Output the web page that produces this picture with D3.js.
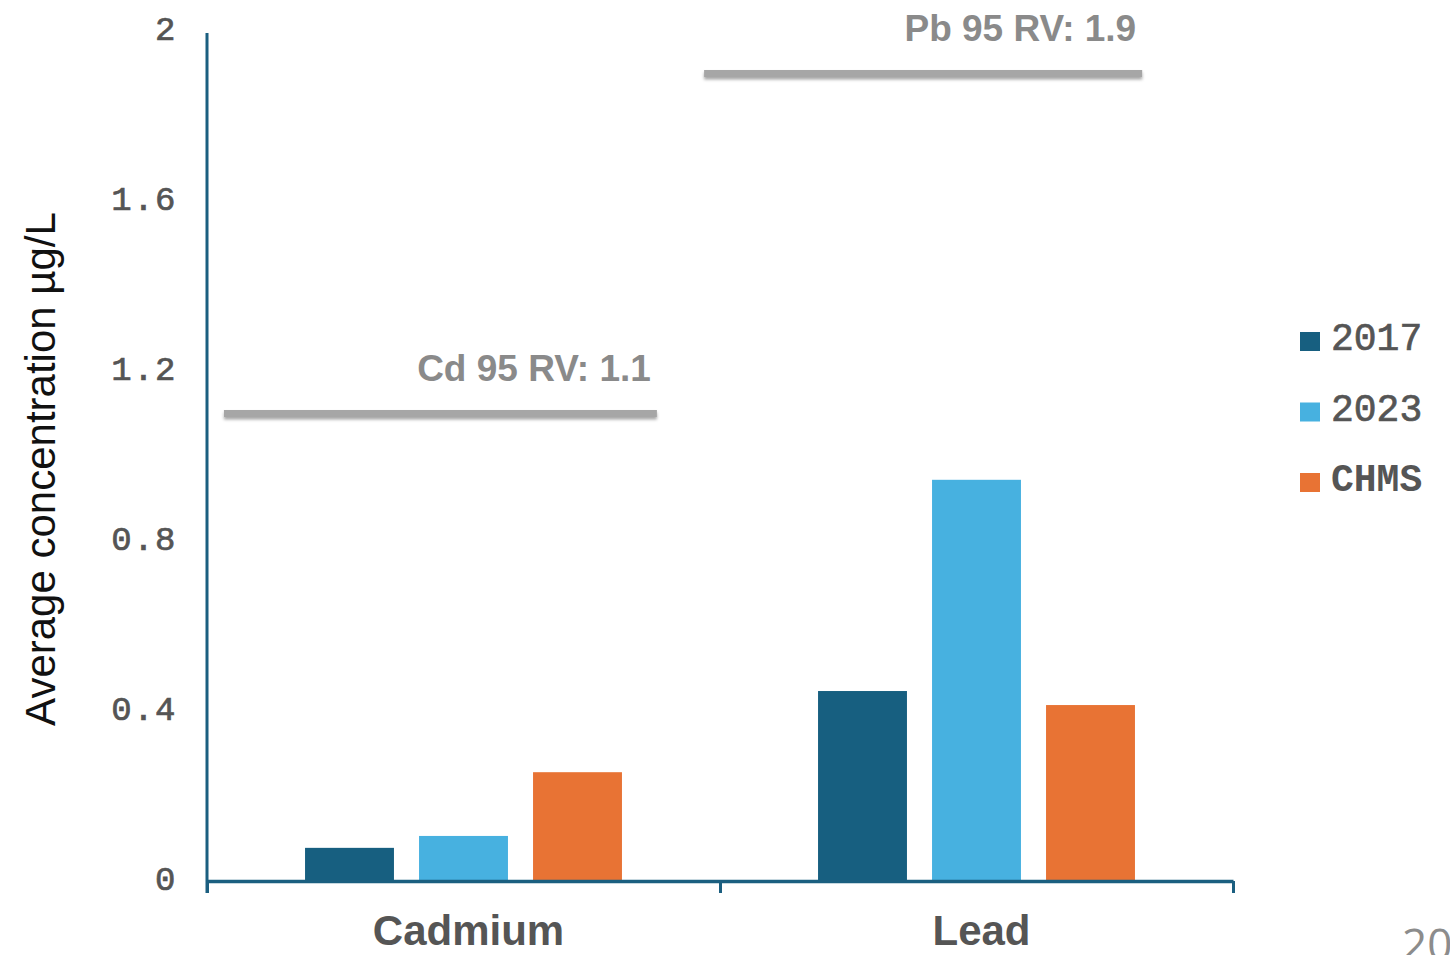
<!DOCTYPE html>
<html>
<head>
<meta charset="utf-8">
<script src="https://cdn.jsdelivr.net/npm/d3@7"></script>
<style>
  html, body { margin: 0; padding: 0; background: #fff; }
  svg { display: block; }
</style>
</head>
<body>
<svg id="chart" width="1450" height="955"></svg>
<script>
// Metals in blood: average concentration per survey
const categories = ["Cadmium", "Lead"];
const series = ["2017", "2023", "CHMS"];
const cadmiumValues = [0.078, 0.106, 0.256];
const leadValues = [0.447, 0.944, 0.414];
const yTicks = [0, 0.4, 0.8, 1.2, 1.6, 2];
const yTickLabels = ["0", "0.4", "0.8", "1.2", "1.6", "2"];
const refLabels = ["Cd 95 RV: 1.1", "Pb 95 RV: 1.9"];
const refValues = [1.1, 1.9];

const valuesByCategory = { Cadmium: cadmiumValues, Lead: leadValues };
const colors = { "2017": "#175f80", "2023": "#47b1e0", "CHMS": "#e87334" };

// layout
const plot = { left: 207, right: 1233, top: 31, bottom: 881 };
const axisColor = "#1b5f80";
// reference line extents, in "category units" along the x axis (0 = left edge, 2 = right edge)
const refSpans = [[0.033, 0.877], [0.969, 1.823]];

const svg = d3.select("#chart");

const y = d3.scaleLinear().domain([0, 2]).range([plot.bottom, plot.top]);
const x0 = d3.scaleBand().domain(categories).range([plot.left, plot.right]).padding(0);
const x1 = d3.scaleBand().domain(series).range([0, x0.bandwidth()])
  .paddingInner(0.22).paddingOuter(0.86);
const xUnits = d3.scaleLinear().domain([0, categories.length]).range([plot.left, plot.right]);

// soft drop shadow for the reference lines (user-space region so thin lines keep it)
const defs = svg.append("defs");
const f = defs.append("filter").attr("id", "shadow")
  .attr("filterUnits", "userSpaceOnUse")
  .attr("x", 0).attr("y", 0).attr("width", 1450).attr("height", 955);
f.append("feDropShadow").attr("dx", 0).attr("dy", 2.5).attr("stdDeviation", 1.8)
  .attr("flood-color", "#000").attr("flood-opacity", 0.35);

// bars
const groups = svg.append("g").selectAll("g")
  .data(categories).join("g")
  .attr("transform", d => `translate(${x0(d)},0)`);

groups.selectAll("rect")
  .data(c => series.map((s, i) => ({ s, v: valuesByCategory[c][i] })))
  .join("rect")
  .attr("x", d => x1(d.s))
  .attr("width", x1.bandwidth())
  .attr("y", d => y(d.v))
  .attr("height", d => y(0) - y(d.v))
  .attr("fill", d => colors[d.s]);

// y axis
const yAxis = d3.axisLeft(y).tickValues(yTicks).tickSize(0).tickPadding(30)
  .tickFormat((d, i) => yTickLabels[i]);
const gy = svg.append("g").attr("transform", `translate(${plot.left},0)`).call(yAxis);
gy.select(".domain").remove();
gy.selectAll("text")
  .attr("font-family", "'Liberation Mono', 'DejaVu Sans Mono', monospace")
  .attr("font-size", 34).attr("fill", "#555").attr("letter-spacing", 1.5)
  .attr("stroke", "#555").attr("stroke-width", 0.7)
  .attr("dy", "0.26em");
svg.append("line")
  .attr("x1", plot.left).attr("x2", plot.left)
  .attr("y1", y(2) + 2).attr("y2", y(0) + 12)
  .attr("stroke", axisColor).attr("stroke-width", 3);

// x axis
const xAxis = d3.axisBottom(xUnits).tickValues(d3.range(categories.length + 1))
  .tickSize(12).tickSizeOuter(0).tickFormat("");
const gx = svg.append("g").attr("transform", `translate(0,${y(0)})`).call(xAxis);
gx.select(".domain").attr("stroke", axisColor).attr("stroke-width", 3.5);
gx.selectAll(".tick line").attr("stroke", axisColor).attr("stroke-width", 3);

// category labels
svg.append("g").selectAll("text")
  .data(categories).join("text")
  .attr("x", d => x0(d) + x0.bandwidth() / 2 + 5)
  .attr("y", 945)
  .attr("text-anchor", "middle")
  .attr("font-family", "'Liberation Sans', Arial, sans-serif")
  .attr("font-weight", "bold").attr("font-size", 42)
  .attr("fill", "#555")
  .text(d => d);

// reference lines with labels
const refs = svg.append("g").selectAll("g")
  .data(refValues.map((v, i) => ({ v, label: refLabels[i], span: refSpans[i] })))
  .join("g");
refs.append("line")
  .attr("x1", d => xUnits(d.span[0])).attr("x2", d => xUnits(d.span[1]))
  .attr("y1", d => y(d.v)).attr("y2", d => y(d.v))
  .attr("stroke", "#a6a6a6").attr("stroke-width", 7)
  .attr("filter", "url(#shadow)");
refs.append("text")
  .attr("x", d => xUnits(d.span[1]) - 6)
  .attr("y", d => y(d.v) - 33)
  .attr("text-anchor", "end")
  .attr("font-family", "'Liberation Sans', Arial, sans-serif")
  .attr("font-weight", "bold").attr("font-size", 37)
  .attr("fill", "#8a8a8a")
  .text(d => d.label);

// y axis title
svg.append("text")
  .attr("transform", "translate(55,469) rotate(-90)")
  .attr("text-anchor", "middle")
  .attr("font-family", "'Liberation Sans', Arial, sans-serif")
  .attr("font-size", 42).attr("fill", "#111")
  .text("Average concentration µg/L");

// legend
const legend = svg.append("g").attr("transform", "translate(1300,330)");
const rows = legend.selectAll("g").data(series).join("g")
  .attr("transform", (d, i) => `translate(0,${i * 70.5})`);
rows.append("rect").attr("width", 20).attr("height", 19).attr("y", 2)
  .attr("fill", d => colors[d]);
rows.append("text")
  .attr("x", 31).attr("y", 20)
  .attr("font-family", "'Liberation Mono', 'DejaVu Sans Mono', monospace")
  .attr("font-size", 38).attr("fill", "#555")
  .attr("stroke", "#555").attr("stroke-width", d => d === "CHMS" ? 0 : 0.7)
  .attr("font-weight", d => d === "CHMS" ? "bold" : "normal")
  .text(d => d);

// page number
svg.append("text")
  .attr("x", 1402).attr("y", 960)
  .attr("font-family", "'Open Sans', 'Noto Sans', sans-serif")
  .attr("font-size", 44).attr("fill", "#8c8c8c")
  .text("20");
</script>
</body>
</html>
